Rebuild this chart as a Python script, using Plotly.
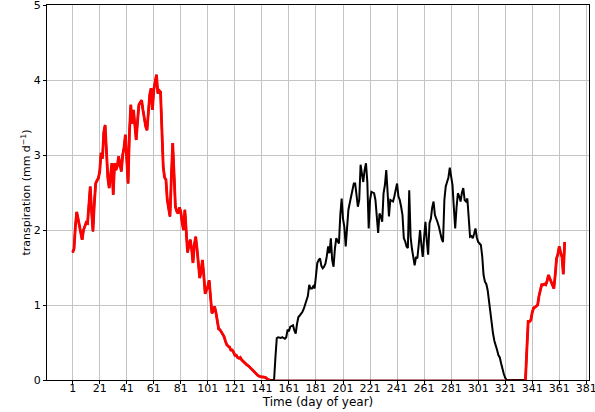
import plotly.graph_objects as go

# daily transpiration (mm/day), day 1..365
days = list(range(1, 366))

transp = [
    1.70, 1.75, 2.05, 2.24, 2.15, 2.07, 1.95, 1.87, 2.00, 2.07,
    2.10, 2.09, 2.40, 2.58, 2.25, 1.98, 2.35, 2.62, 2.66, 2.69,
    2.78, 3.03, 2.95, 3.30, 3.40, 3.05, 2.70, 2.56, 2.75, 2.89,
    2.47, 2.89, 2.80, 2.85, 2.98, 2.85, 2.78, 3.00, 3.10, 3.27,
    2.95, 2.62, 3.30, 3.67, 3.42, 3.60, 3.40, 3.20, 3.45, 3.67,
    3.70, 3.73, 3.60, 3.45, 3.38, 3.33, 3.55, 3.80, 3.89, 3.60,
    3.87, 4.00, 4.07, 3.82, 3.86, 3.84, 3.30, 2.84, 2.70, 2.67,
    2.40, 2.31, 2.18, 2.70, 3.16, 2.75, 2.31, 2.25, 2.22, 2.30,
    2.24, 2.10, 2.00, 2.27, 1.95, 1.70, 1.80, 1.87, 1.75, 1.56,
    1.80, 1.91, 1.75, 1.50, 1.36, 1.45, 1.60, 1.40, 1.15, 1.20,
    1.25, 1.33, 1.05, 0.89, 0.92, 0.98, 0.90, 0.78, 0.68, 0.67,
    0.64, 0.60, 0.58, 0.52, 0.47, 0.45, 0.44, 0.40, 0.40, 0.37,
    0.33, 0.33, 0.30, 0.29, 0.30, 0.27, 0.25, 0.24, 0.22, 0.20,
    0.19, 0.17, 0.16, 0.14, 0.12, 0.10, 0.08, 0.06, 0.05, 0.04,
    0.04, 0.04, 0.04, 0.03, 0.01, 0.00, 0.00, 0.00, 0.00, 0.00,
    0.30, 0.56, 0.57, 0.56, 0.56, 0.57, 0.56, 0.55, 0.57, 0.67,
    0.65, 0.71, 0.72, 0.73, 0.66, 0.62, 0.75, 0.84, 0.86, 0.88,
    0.91, 0.95, 1.00, 1.05, 1.12, 1.27, 1.22, 1.22, 1.25, 1.22,
    1.40, 1.56, 1.60, 1.62, 1.52, 1.49, 1.51, 1.55, 1.65, 1.78,
    1.69, 1.89, 1.60, 1.51, 1.75, 1.89, 1.85, 1.82, 2.20, 2.42,
    2.15, 2.04, 1.78, 2.10, 2.27, 2.36, 2.45, 2.58, 2.62, 2.62,
    2.45, 2.31, 2.40, 2.87, 2.75, 2.64, 2.80, 2.89, 2.64, 2.02,
    2.40, 2.51, 2.50, 2.49, 2.40, 2.20, 1.96, 2.22, 2.18, 2.11,
    2.49, 2.60, 2.80, 2.50, 2.18, 2.40, 2.39, 2.38, 2.45, 2.55,
    2.62, 2.45, 2.40, 2.31, 2.20, 1.89, 1.85, 1.78, 1.76, 2.53,
    1.91, 1.75, 1.60, 1.53, 1.64, 1.62, 1.80, 2.00, 1.80, 1.64,
    1.90, 2.11, 1.85, 1.67, 2.09, 2.15, 2.30, 2.38, 2.20, 2.13,
    2.10, 2.04, 1.95, 1.88, 1.84, 2.40, 2.58, 2.64, 2.70, 2.83,
    2.70, 2.60, 2.30, 2.02, 2.30, 2.49, 2.45, 2.38, 2.50, 2.56,
    2.40, 2.38, 2.42, 2.10, 1.91, 1.92, 1.89, 1.95, 2.02, 1.90,
    1.84, 1.82, 1.80, 1.65, 1.40, 1.31, 1.28, 1.20, 1.05, 0.85,
    0.72, 0.62, 0.52, 0.47, 0.40, 0.33, 0.30, 0.22, 0.13, 0.08,
    0.03, 0.00, 0.00, 0.00, 0.00, 0.00, 0.00, 0.00, 0.00, 0.00,
    0.00, 0.00, 0.00, 0.00, 0.00, 0.00, 0.40, 0.78, 0.78, 0.80,
    0.90, 0.96, 0.97, 0.98, 1.00, 1.12, 1.22, 1.27, 1.27, 1.28,
    1.27, 1.32, 1.40, 1.36, 1.31, 1.26, 1.22, 1.40, 1.62, 1.68,
    1.78, 1.70, 1.64, 1.41, 1.84,
]

# winter part (red): days up to 147 and from 335 on
winter_end, winter_start = 147, 335
is_winter = [d <= winter_end or d >= winter_start for d in days]
winter = [v if w else None for v, w in zip(transp, is_winter)]
# red model stays at zero through the summer (thin line along the axis)
summer_zero = [0.0 if (d >= winter_end and d <= winter_start) else None for d in days]

x_ticks = list(range(1, 382, 20))
y_ticks = [0, 1, 2, 3, 4, 5]

fig = go.Figure()

fig.add_trace(go.Scatter(
    x=days, y=transp, mode='lines',
    line=dict(color='black', width=2),
    showlegend=False
))

fig.add_trace(go.Scatter(
    x=days, y=winter, mode='lines',
    line=dict(color='#ff0000', width=2.8),
    showlegend=False
))

fig.add_trace(go.Scatter(
    x=days, y=summer_zero, mode='lines',
    line=dict(color='#8b0000', width=1.2),
    showlegend=False
))

axis_font = dict(family='DejaVu Sans', size=11, color='black')

fig.update_layout(
    width=595, height=412,
    margin=dict(l=47, r=6, t=5, b=32),
    paper_bgcolor='white',
    plot_bgcolor='white',
    font=axis_font,
    xaxis=dict(
        range=[-18, 383],
        tickvals=x_ticks,
        ticks='outside', ticklen=3, tickcolor='black',
        ticklabelstandoff=-5, ticklabeloverflow='allow',
        showgrid=True, gridcolor='#c4c4c4', gridwidth=1,
        showline=True, linecolor='black', linewidth=1, mirror=True,
        zeroline=False, automargin=False,
        tickfont=axis_font,
        title=dict(text='Time (day of year)', font=dict(family='DejaVu Sans', size=12), standoff=0),
    ),
    yaxis=dict(
        range=[0, 5],
        tickvals=y_ticks,
        ticks='outside', ticklen=3, tickcolor='black',
        ticklabeloverflow='allow',
        showgrid=True, gridcolor='#c4c4c4', gridwidth=1,
        showline=True, linecolor='black', linewidth=1, mirror=True,
        zeroline=False, automargin=False,
        tickfont=axis_font,
        title=dict(text='transpiration (mm d<sup>−1</sup>)', font=dict(family='DejaVu Sans', size=11), standoff=0),
    ),
)

# drop the browser's default body margin so the figure sits at the window corner
fig.write_html("out.html", config={"displayModeBar": False},
               post_script="document.body.style.margin='0px';")
